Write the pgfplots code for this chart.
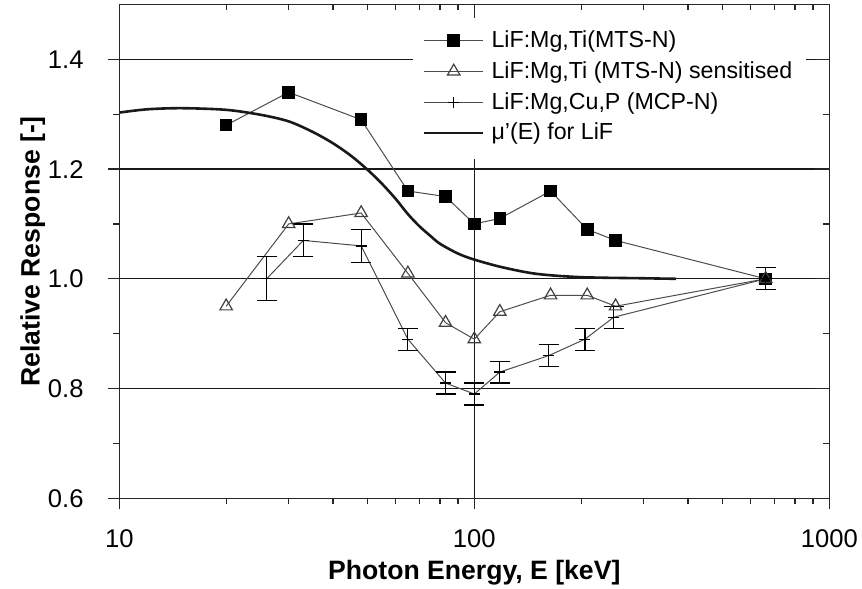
\documentclass[border=0pt]{standalone}
\usepackage{fontspec}
\setmainfont{Liberation Sans}
\usepackage{pgfplots}
\pgfplotsset{compat=1.18}
\pgfplotsset{
  legend image code/.code={\draw[mark repeat=2,mark phase=2,#1] plot coordinates {(0pt,0pt)(14.75pt,0pt)(29.5pt,0pt)};},
}

\begin{document}
\begin{tikzpicture}
\begin{axis}[name=main,
  scale only axis, width=355pt, height=246.9pt,
  xmode=log, xmin=10, xmax=1000, ymin=0.6, ymax=1.5,
  xtick={10,100,1000}, ytick={0.6,0.8,1.0,1.2,1.4},
  minor xtick={20,30,40,50,60,70,80,90,200,300,400,500,600,700,800,900},
  minor ytick={0.7,0.9,1.1,1.3},
  axis line style={line width=0.7pt, black!85},
  tick style={line width=0.6pt, black!85},
  tick pos=left, tick align=outside,
  major tick length=5.5pt, minor tick length=3pt,
  xticklabels={10,100,1000},
  yticklabels={0.6,0.8,1.0,1.2,1.4},
  ticklabel style={font=\fontsize{12.8}{15}\selectfont, inner sep=0pt},
  xticklabel style={anchor=base, yshift=-19.2pt},
  yticklabel style={anchor=east, xshift=-12.2pt},
  xmajorgrids, ymajorgrids,
  grid style={line width=0.6pt, black!90},
  xlabel={Photon Energy, E [keV]},
  xlabel style={font=\bfseries\fontsize{13.3}{15}\selectfont, at={(axis description cs:0.5,-0.164)}, anchor=base},
  ylabel={Relative Response [-]},
  ylabel style={font=\bfseries\fontsize{13.3}{15}\selectfont, at={(axis description cs:-0.1124,0.5)}, anchor=base},
  legend style={at={(0.413,1)}, anchor=north west, yshift=-4.9pt,
    draw=none, fill=white, inner xsep=5pt, inner ysep=6pt,
    font=\fontsize{11.6}{14}\selectfont, row sep=1.5pt, column sep=1.5pt},
  legend cell align=left,
]
% LiF:Mg,Ti (MTS-N)
\addplot[black!70, line width=0.5pt, mark=square*, mark size=2.9pt,
  mark options={solid, fill=black, draw=black}] coordinates {
  (20,1.28) (30,1.34) (48,1.29) (65,1.16) (83,1.15) (100,1.10)
  (118,1.11) (164,1.16) (208,1.09) (250,1.07) (662,1.00)
};
\addlegendentry{LiF:Mg,Ti(MTS-N)}
% LiF:Mg,Ti (MTS-N) sensitised
\addplot[black!70, line width=0.5pt, mark=triangle, mark size=3.6pt,
  mark options={solid, fill=white, draw=black!75, line width=0.6pt}] coordinates {
  (20,0.95) (30,1.10) (48,1.12) (65,1.01) (83,0.92) (100,0.89)
  (118,0.94) (164,0.97) (208,0.97) (250,0.95) (662,1.00)
};
\addlegendentry{LiF:Mg,Ti (MTS-N) sensitised}
% LiF:Mg,Cu,P (MCP-N)
\addplot[black!70, line width=0.5pt, mark=+, mark size=2.75pt,
  mark options={solid, draw=black, line width=0.6pt},
  error bars/.cd, y dir=both, y explicit,
  error bar style={black, line width=0.6pt},
  error mark options={rotate=90, mark size=5pt, black, line width=0.6pt}] coordinates {
  (26,1.00) +- (0,0.04)
  (33,1.07) +- (0,0.03)
  (48,1.06) +- (0,0.03)
  (65,0.89) +- (0,0.02)
  (83,0.81) +- (0,0.02)
  (100,0.79) +- (0,0.02)
  (118,0.83) +- (0,0.02)
  (162,0.86) +- (0,0.02)
  (205,0.89) +- (0,0.02)
  (247,0.93) +- (0,0.02)
  (662,1.00) +- (0,0.02)
};
\addlegendentry{LiF:Mg,Cu,P (MCP-N)}
% mu'(E) for LiF
\addplot[black!90, line width=1.3pt, smooth] coordinates {
  (10,1.303) (12,1.309) (15,1.311) (20,1.308) (25,1.299) (30,1.287)
  (35,1.268) (40,1.247) (45,1.224) (50,1.199) (55,1.173) (60,1.146)
  (65,1.118) (70,1.096) (75,1.079) (80,1.064) (90,1.046) (100,1.035)
  (120,1.021) (150,1.009) (200,1.003) (300,1.001) (370,1.000)
};
\addlegendentry{μ'(E) for LiF}
\end{axis}
\begin{axis}[at={(main.south west)}, anchor=south west,
  scale only axis, width=355pt, height=246.9pt,
  xmode=log, xmin=10, xmax=1000, ymin=0.6, ymax=1.5,
  xtick={10,100,1000}, ytick={0.6,0.8,1.0,1.2,1.4},
  minor xtick={20,30,40,50,60,70,80,90,200,300,400,500,600,700,800,900},
  minor ytick={0.7,0.9,1.1,1.3},
  axis line style={line width=0.7pt, black!85},
  tick style={line width=0.6pt, black!85},
  tick pos=right, tick align=inside,
  major tick length=7pt, minor tick length=3pt,
  xticklabels={}, yticklabels={},
]
\end{axis}
\pgfresetboundingbox
\path[use as bounding box] ([xshift=-59.65pt,yshift=-45.35pt]main.south west)
  rectangle ([xshift=16.35pt,yshift=2.25pt]main.north east);
\end{tikzpicture}
\end{document}
